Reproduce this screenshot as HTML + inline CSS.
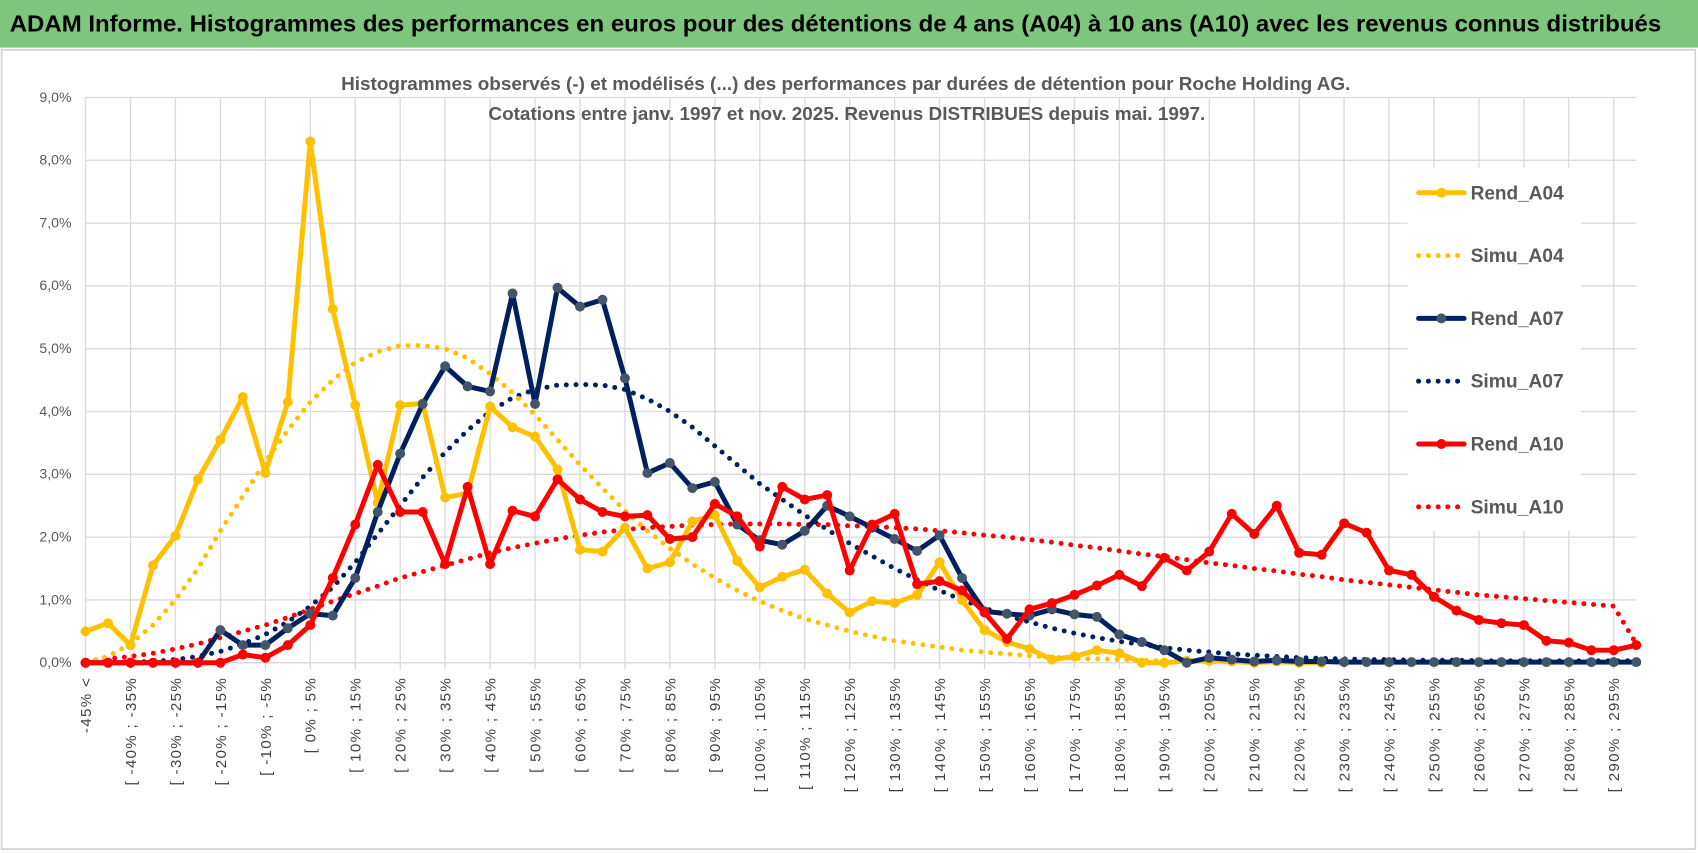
<!DOCTYPE html>
<html><head><meta charset="utf-8"><style>
html,body{margin:0;padding:0;background:#fff;width:1698px;height:854px;overflow:hidden}
svg{display:block}
</style></head><body>
<svg id="chart" width="1698" height="854" viewBox="0 0 1568 788.6" xmlns="http://www.w3.org/2000/svg" font-family="'Liberation Sans Narrow','Liberation Sans',sans-serif">
<rect x="0" y="0" width="1568" height="788.6" fill="#fff"/>
<rect x="0" y="0" width="1568" height="44" fill="#7dc67b"/>
<text x="9" y="29" font-size="21" font-weight="bold" fill="#000" textLength="1525" lengthAdjust="spacingAndGlyphs">ADAM Informe. Histogrammes des performances en euros pour des détentions de 4 ans (A04) à 10 ans (A10) avec les revenus connus distribués</text>
<rect x="1.5" y="46" width="1564" height="738" fill="none" stroke="#d0d0d0" stroke-width="1.5"/>
<g id="grid"></g>
<text x="781" y="83" text-anchor="middle" font-size="17" font-weight="bold" fill="#595959" textLength="932" lengthAdjust="spacingAndGlyphs">Histogrammes observés (-) et modélisés (...) des performances par durées de détention pour Roche Holding AG.</text>
<text x="782" y="111" text-anchor="middle" font-size="17" font-weight="bold" fill="#595959" textLength="662" lengthAdjust="spacingAndGlyphs">Cotations entre janv. 1997 et nov. 2025. Revenus DISTRIBUES depuis mai. 1997.</text>
<g id="series"></g>
<g id="legend"></g>
</svg>
<script>
const categories = ["-45% <","[ -45% ; -40%","[ -40% ; -35%","[ -35% ; -30%","[ -30% ; -25%","[ -25% ; -20%","[ -20% ; -15%","[ -15% ; -10%","[ -10% ; -5%","[ -5% ; 0%","[ 0% ; 5%","[ 5% ; 10%","[ 10% ; 15%","[ 15% ; 20%","[ 20% ; 25%","[ 25% ; 30%","[ 30% ; 35%","[ 35% ; 40%","[ 40% ; 45%","[ 45% ; 50%","[ 50% ; 55%","[ 55% ; 60%","[ 60% ; 65%","[ 65% ; 70%","[ 70% ; 75%","[ 75% ; 80%","[ 80% ; 85%","[ 85% ; 90%","[ 90% ; 95%","[ 95% ; 100%","[ 100% ; 105%","[ 105% ; 110%","[ 110% ; 115%","[ 115% ; 120%","[ 120% ; 125%","[ 125% ; 130%","[ 130% ; 135%","[ 135% ; 140%","[ 140% ; 145%","[ 145% ; 150%","[ 150% ; 155%","[ 155% ; 160%","[ 160% ; 165%","[ 165% ; 170%","[ 170% ; 175%","[ 175% ; 180%","[ 180% ; 185%","[ 185% ; 190%","[ 190% ; 195%","[ 195% ; 200%","[ 200% ; 205%","[ 205% ; 210%","[ 210% ; 215%","[ 215% ; 220%","[ 220% ; 225%","[ 225% ; 230%","[ 230% ; 235%","[ 235% ; 240%","[ 240% ; 245%","[ 245% ; 250%","[ 250% ; 255%","[ 255% ; 260%","[ 260% ; 265%","[ 265% ; 270%","[ 270% ; 275%","[ 275% ; 280%","[ 280% ; 285%","[ 285% ; 290%","[ 290% ; 295%","[ 295% ; 300%"];
const yTicks = [0,1,2,3,4,5,6,7,8,9];
const yTickLabels = ["0,0%","1,0%","2,0%","3,0%","4,0%","5,0%","6,0%","7,0%","8,0%","9,0%"];
const rendA04 = [0.5,0.63,0.28,1.55,2.02,2.92,3.55,4.23,3.02,4.15,8.3,5.63,4.1,2.55,4.1,4.13,2.63,2.7,4.08,3.75,3.6,3.08,1.8,1.77,2.15,1.5,1.6,2.25,2.35,1.62,1.2,1.37,1.48,1.1,0.8,0.98,0.95,1.08,1.6,1.0,0.52,0.33,0.22,0.05,0.1,0.2,0.15,0.0,0.0,0.03,0.03,0.02,0.0,0.02,0.0,0.0];
const simuA04 = [0.0,0.1,0.3,0.6,1.0,1.5,2.1,2.65,3.2,3.7,4.15,4.5,4.78,4.95,5.05,5.05,5.0,4.85,4.6,4.3,3.95,3.55,3.15,2.78,2.42,2.1,1.82,1.57,1.35,1.15,0.98,0.83,0.7,0.6,0.5,0.42,0.35,0.3,0.25,0.2,0.17,0.14,0.11,0.09,0.07,0.06,0.05,0.04,0.03,0.02,0.02,0.01,0.01,0.01,0.0];
const rendA07 = [0,0,0,0,0,0,0.52,0.28,0.28,0.55,0.78,0.75,1.35,2.4,3.33,4.12,4.72,4.4,4.32,5.88,4.12,5.97,5.67,5.78,4.53,3.02,3.18,2.78,2.88,2.2,1.95,1.88,2.1,2.5,2.33,2.15,1.97,1.78,2.03,1.35,0.82,0.78,0.75,0.85,0.77,0.73,0.45,0.33,0.2,0.0,0.08,0.05,0.02,0.04,0.02,0.02,0.01,0.01,0.01,0.01,0.01,0.01,0.01,0.01,0.01,0.01,0.01,0.01,0.01,0.01];
const simuA07 = [0.0,0.0,0.01,0.02,0.05,0.1,0.18,0.3,0.45,0.65,0.9,1.2,1.6,2.05,2.5,2.95,3.35,3.7,4.0,4.22,4.35,4.42,4.43,4.42,4.35,4.2,4.0,3.75,3.45,3.15,2.85,2.6,2.35,2.12,1.9,1.7,1.5,1.32,1.15,1.0,0.87,0.75,0.65,0.55,0.47,0.4,0.34,0.29,0.24,0.2,0.17,0.14,0.12,0.1,0.08,0.07,0.06,0.05,0.05,0.04,0.04,0.04,0.03,0.03,0.03,0.03,0.03,0.03,0.03,0.03];
const rendA10 = [0,0,0,0,0,0,0,0.13,0.08,0.28,0.6,1.35,2.2,3.15,2.4,2.4,1.57,2.8,1.57,2.42,2.33,2.92,2.6,2.4,2.33,2.35,1.97,2.0,2.53,2.33,1.85,2.8,2.6,2.67,1.47,2.2,2.37,1.25,1.3,1.15,0.8,0.38,0.85,0.95,1.08,1.23,1.4,1.22,1.67,1.47,1.77,2.37,2.05,2.5,1.75,1.72,2.22,2.07,1.47,1.4,1.05,0.83,0.68,0.63,0.6,0.35,0.32,0.2,0.2,0.28];
const simuA10 = [0.03,0.06,0.1,0.15,0.22,0.3,0.4,0.5,0.6,0.72,0.85,0.98,1.1,1.22,1.35,1.45,1.55,1.65,1.75,1.83,1.9,1.97,2.03,2.08,2.12,2.15,2.17,2.19,2.2,2.21,2.21,2.21,2.2,2.2,2.18,2.17,2.15,2.13,2.1,2.07,2.03,2.0,1.96,1.92,1.87,1.83,1.78,1.73,1.69,1.64,1.59,1.55,1.5,1.46,1.41,1.37,1.32,1.28,1.24,1.2,1.16,1.12,1.08,1.05,1.02,0.99,0.96,0.93,0.9,0.3];
const seriesNames = ["Rend_A04","Simu_A04","Rend_A07","Simu_A07","Rend_A10","Simu_A10"];

const NS="http://www.w3.org/2000/svg";
const X0=79, X1=1511, Y0=612, Y9=90;
function xScale(i){return X0+i*(X1-X0)/(categories.length-1);}
function yScale(v){return Y0-v*(Y0-Y9)/9;}
function mk(tag,attrs,parent){const e=document.createElementNS(NS,tag);for(const k in attrs)e.setAttribute(k,attrs[k]);parent.appendChild(e);return e;}

const grid=document.getElementById('grid');
yTicks.forEach((t,k)=>{
  const l=mk('line',{x1:X0,x2:X1,y1:yScale(t),y2:yScale(t),stroke:'#d9d9d9','stroke-width':1.2},grid);
  
  
  const tx=mk('text',{x:66,y:yScale(t)+4,'text-anchor':'end','font-size':13,fill:'#595959'},grid);
  tx.textContent=yTickLabels[k];
  
  
});
categories.forEach((c,i)=>{
  if(i%2===0){
    const l=mk('line',{x1:xScale(i),x2:xScale(i),y1:Y9,y2:Y0+6,stroke:'#d9d9d9','stroke-width':1.2},grid);
    
    
    const x=xScale(i)+5, y=625;
    const tx=mk('text',{x:x,y:y,'text-anchor':'end','font-size':14,fill:'#404040','letter-spacing':'1.2',transform:`rotate(-90 ${x} ${y})`,'font-family':"'Liberation Sans',sans-serif"},grid);
    tx.textContent=c;
    
    
  }
});
mk('line',{x1:X0,x2:X1,y1:Y0,y2:Y0,stroke:'#d9d9d9','stroke-width':1.2},grid);

const series=document.getElementById('series');
function drawSeries(vals,color,dotted,marker,name){
  const pts=vals.map((v,i)=>xScale(i)+','+yScale(v)).join(' ');
  const attrs={points:pts,fill:'none',stroke:color,'stroke-width':4.6,'stroke-linejoin':'round','stroke-linecap':'round'};
  if(dotted)attrs['stroke-dasharray']='0 9';
  const p=mk('polyline',attrs,series);
  
  
  if(!dotted){
    vals.forEach((v,i)=>{
      const c=mk('circle',{cx:xScale(i),cy:yScale(v),r:4.6,fill:marker},series);
      
      
    });
  }
}
drawSeries(simuA10,'#ff0000',true,null,'simu-a10-line');
drawSeries(simuA07,'#002060',true,null,'simu-a07-line');
drawSeries(simuA04,'#ffc000',true,null,'simu-a04-line');
drawSeries(rendA04,'#ffc000',false,'#ffc000','rend-a04-line');
drawSeries(rendA07,'#002060',false,'#44546a','rend-a07-line');
drawSeries(rendA10,'#ff0000',false,'#ff0000','rend-a10-line');

const legend=document.getElementById('legend');
const lc=['#ffc000','#ffc000','#002060','#002060','#ff0000','#ff0000'];
const lm=['#ffc000',null,'#44546a',null,'#ff0000',null];
mk('rect',{x:1300,y:155,width:160,height:335,fill:'#fff'},legend);
seriesNames.forEach((n,k)=>{
  const y=178+k*58;
  const g=mk('g',{},legend);
  
  
  const l=mk('line',{x1:1310,x2:1352,y1:y,y2:y,stroke:lc[k],'stroke-width':4.6,'stroke-linecap':'round'},g);
  if(!lm[k])l.setAttribute('stroke-dasharray','0 9');
  if(lm[k])mk('circle',{cx:1331,cy:y,r:4.6,fill:lm[k]},g);
  const t=mk('text',{x:1358,y:y+6,'font-size':18,'font-weight':'bold',fill:'#595959',textLength:86,lengthAdjust:'spacingAndGlyphs'},g);
  t.textContent=n;
});
</script>
</body></html>
